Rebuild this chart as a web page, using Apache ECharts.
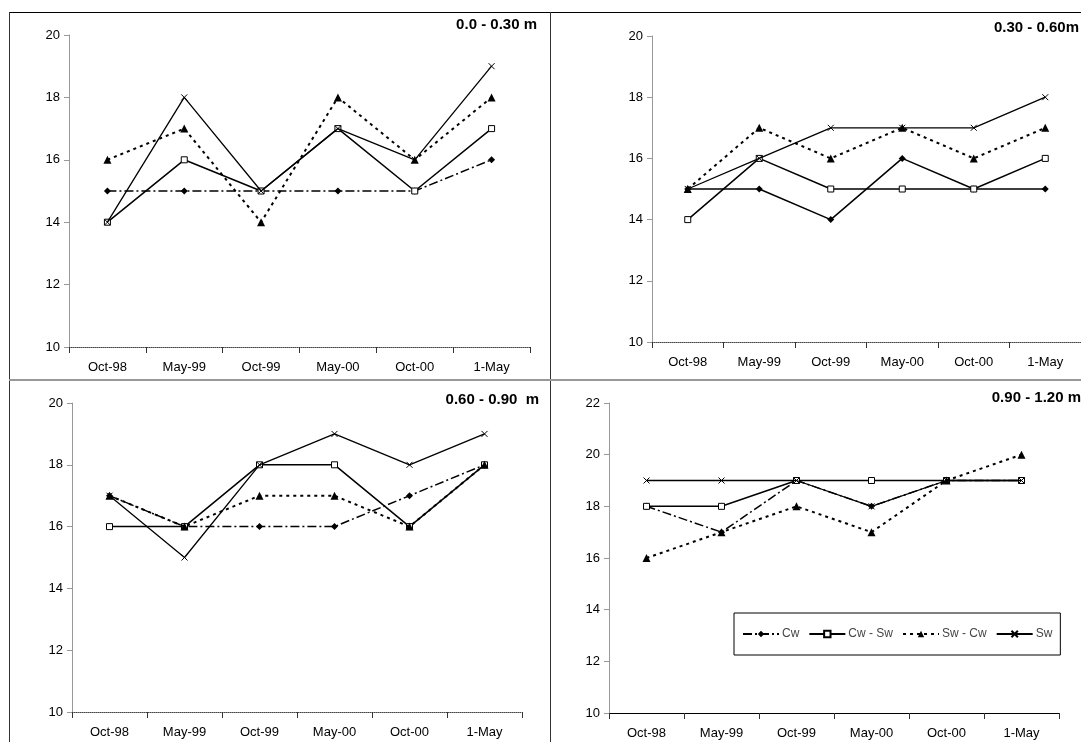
<!DOCTYPE html>
<html>
<head>
<meta charset="utf-8">
<script src="https://cdn.jsdelivr.net/npm/echarts@6/dist/echarts.min.js"></script>
<style>
html,body{margin:0;padding:0;background:#fff;}
#chart{width:1081px;height:742px;}
</style>
</head>
<body>
<div id="chart"></div>
<script>
const categories = ['Oct-98','May-99','Oct-99','May-00','Oct-00','1-May'];
const seriesNames = ['Cw','Cw - Sw','Sw - Cw','Sw'];
const panelTitles = ['0.0 - 0.30 m','0.30 - 0.60m','0.60 - 0.90  m','0.90 - 1.20 m'];

const p1Cw   = [15,15,15,15,15,16];
const p1CwSw = [14,16,15,17,15,17];
const p1SwCw = [16,17,14,18,16,18];
const p1Sw   = [14,18,15,17,16,19];

const p2Cw   = [15,15,14,16,15,15];
const p2CwSw = [14,16,15,15,15,16];
const p2SwCw = [15,17,16,17,16,17];
const p2Sw   = [15,16,17,17,17,18];

const p3Cw   = [17,16,16,16,17,18];
const p3CwSw = [16,16,18,18,16,18];
const p3SwCw = [17,16,17,17,16,18];
const p3Sw   = [17,15,18,19,18,19];

const p4Cw   = [18,17,19,18,19,19];
const p4CwSw = [18,18,19,19,19,19];
const p4SwCw = [16,17,18,17,19,20];
const p4Sw   = [19,19,19,18,19,19];

const yMin = [10,10,10,10];
const yMax = [20,20,20,22];
const yStep = 2;

const panels = [
  [p1Cw,p1CwSw,p1SwCw,p1Sw],
  [p2Cw,p2CwSw,p2SwCw,p2Sw],
  [p3Cw,p3CwSw,p3SwCw,p3Sw],
  [p4Cw,p4CwSw,p4SwCw,p4Sw]
];

const grids = [
  {left:69, top:35, width:461, height:312},
  {left:652, top:36, width:441, height:306},
  {left:72, top:403, width:450, height:309},
  {left:609, top:403, width:450, height:310}
];

const FONT = 'Liberation Sans, Arial, sans-serif';
const X_PATH = 'path://M0,0 L10,10 M10,0 L0,10';

function styleFor(idx, panel){
  if(idx===0){
    return {
      symbol:'diamond', symbolSize:7,
      itemStyle:{color:'#000'},
      lineStyle:{color:'#000', width:1.5, type: panel===1 ? 'solid' : [9,3,2,3]}
    };
  } else if(idx===1){
    return {
      symbol:'rect', symbolSize:6,
      itemStyle:{color:'#fff', borderColor:'#000', borderWidth:1},
      lineStyle:{color:'#000', width:1.5, type:'solid'}
    };
  } else if(idx===2){
    return {
      symbol:'triangle', symbolSize:8,
      itemStyle:{color:'#000'},
      lineStyle:{color:'#000', width:2, type:[3,4]}
    };
  }
  return {
    symbol:X_PATH, symbolSize:6,
    itemStyle:{color:'#000', borderColor:'#000', borderWidth:1},
    lineStyle:{color:'#000', width:1.3, type:'solid'}
  };
}

const xAxes = [], yAxes = [], series = [];
grids.forEach((g,i)=>{
  xAxes.push({
    type:'category', gridIndex:i, data:categories, boundaryGap:true,
    axisLine:{lineStyle:{color: i===3 ? '#000' : '#444', width:1, type: i===3 ? 'solid' : [1,1]}},
    axisTick:{show:true, length:6, lineStyle:{color:'#333', type:'solid'}},
    axisLabel:{color:'#000', fontSize:13, fontFamily:FONT, margin:14, interval:0},
    splitLine:{show:false}
  });
  yAxes.push({
    type:'value', gridIndex:i, min:yMin[i], max:yMax[i], interval:yStep,
    axisLine:{show:true, lineStyle:{color:'#999', width:1}},
    axisTick:{show:true, length:5, lineStyle:{color:'#999'}},
    axisLabel:{color:'#000', fontSize:13, fontFamily:FONT, margin:9},
    splitLine:{show:false}
  });
  panels[i].forEach((data,k)=>{
    const st = styleFor(k,i);
    series.push(Object.assign({
      type:'line', name:seriesNames[k], xAxisIndex:i, yAxisIndex:i,
      data:data, showSymbol:true, animation:false, z: 3+k
    }, st));
  });
});

const titlePos = [
  {x:537, y:25},
  {x:1079, y:28},
  {x:539, y:400},
  {x:1081, y:398}
];

const graphics = [
  {type:'line', shape:{x1:9, y1:12.5, x2:1081, y2:12.5}, style:{stroke:'#000', lineWidth:1}},
  {type:'line', shape:{x1:9.5, y1:12, x2:9.5, y2:742}, style:{stroke:'#333', lineWidth:1}},
  {type:'line', shape:{x1:550.5, y1:12, x2:550.5, y2:742}, style:{stroke:'#333', lineWidth:1}},
  {type:'line', shape:{x1:9, y1:380, x2:1081, y2:380}, style:{stroke:'#999', lineWidth:2}}
];
titlePos.forEach((p,i)=>{
  graphics.push({
    type:'text', x:p.x, y:p.y,
    style:{text:panelTitles[i], fill:'#000', font:'bold 15px '+FONT, textAlign:'right', textVerticalAlign:'middle'}
  });
});

const chart = echarts.init(document.getElementById('chart'), null, {renderer:'canvas'});
chart.setOption({
  backgroundColor:'#fff',
  animation:false,
  grid:grids,
  xAxis:xAxes,
  yAxis:yAxes,
  series:series,
  legend:{
    data:seriesNames,
    left:734, top:613,
    orient:'horizontal',
    borderColor:'#000', borderWidth:1, borderRadius:0,
    padding:[15,8,15,8],
    itemWidth:36, itemHeight:8, itemGap:9,
    textStyle:{color:'#444', fontSize:12, fontFamily:FONT, padding:[0,0,0,-2]},
    selectedMode:false
  },
  graphic:graphics
});
</script>
</body>
</html>
